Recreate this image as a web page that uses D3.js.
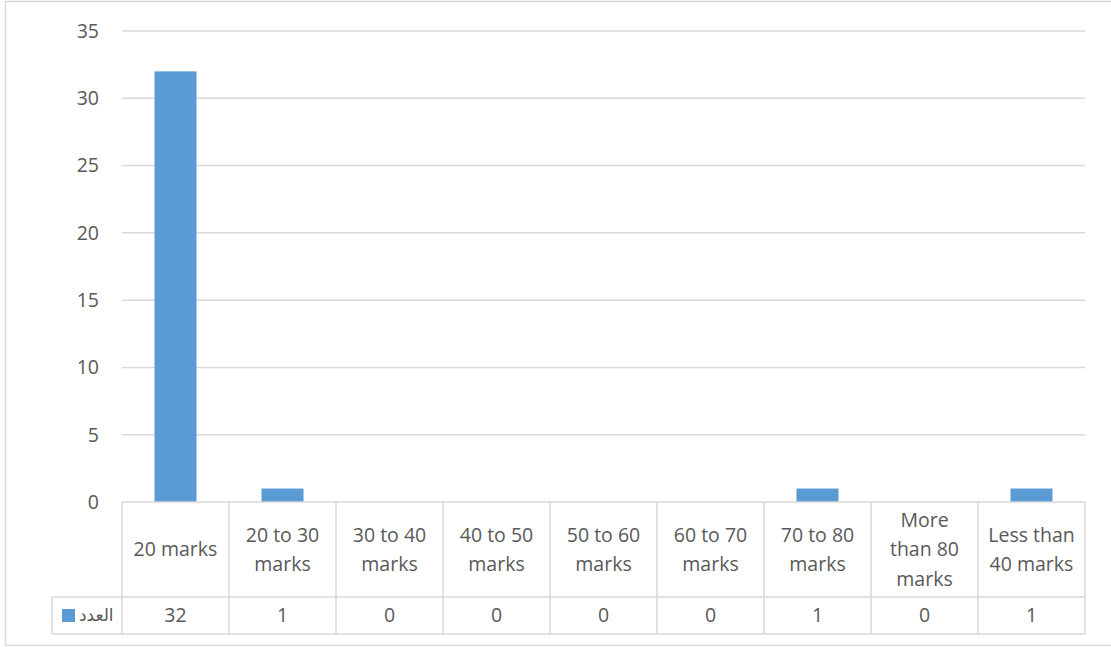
<!DOCTYPE html>
<html>
<head>
<meta charset="utf-8">
<script src="https://cdn.jsdelivr.net/npm/d3@7"></script>
<style>
  body { margin: 0; background: #fff; }
  text { font-family: "Open Sans", "Liberation Sans", sans-serif; fill: #595959; }
</style>
</head>
<body>
<script>
// chart data
var categories = ["20 marks", "20 to 30\nmarks", "30 to 40\nmarks", "40 to 50\nmarks", "50 to 60\nmarks",
  "60 to 70\nmarks", "70 to 80\nmarks", "More\nthan 80\nmarks", "Less than\n40 marks"];
var counts = [32, 1, 0, 0, 0, 0, 1, 0, 1];
var seriesName = "العدد";
var yTicks = [0, 5, 10, 15, 20, 25, 30, 35];

var width = 1111, height = 647;
var plotLeft = 122, plotRight = 1085, plotTop = 31, axisY = 502;
var headerBottom = 597, tableBottom = 634, legendLeft = 52;
var grid = "#D9D9D9", barColor = "#5B9BD5";

var svg = d3.select("body").append("svg")
  .attr("width", width)
  .attr("height", height);

// outer chart border
svg.append("rect")
  .attr("x", 5.5).attr("y", 1.5)
  .attr("width", 1120).attr("height", 644)
  .attr("fill", "none").attr("stroke", grid).attr("stroke-width", 1.5);

var x = d3.scaleBand()
  .domain(categories)
  .range([plotLeft, plotRight]);

var y = d3.scaleLinear()
  .domain([0, 35])
  .range([axisY, plotTop]);

// gridlines
svg.selectAll(".grid")
  .data(yTicks.filter(function(d) { return d > 0; }))
  .enter().append("line")
    .attr("x1", plotLeft).attr("x2", plotRight)
    .attr("y1", function(d) { return y(d); })
    .attr("y2", function(d) { return y(d); })
    .attr("stroke", grid).attr("stroke-width", 1.5);

// y labels
svg.selectAll(".ylab")
  .data(yTicks)
  .enter().append("text")
    .attr("x", 99)
    .attr("y", function(d) { return y(d); })
    .attr("dy", "0.35em")
    .attr("text-anchor", "end")
    .style("font-size", "19.5px")
    .text(function(d) { return d; });

// bars
var barW = 42;
svg.selectAll(".bar")
  .data(counts)
  .enter().append("rect")
    .attr("x", function(d, i) { return x(categories[i]) + (x.bandwidth() - barW) / 2; })
    .attr("y", function(d) { return y(d); })
    .attr("width", barW)
    .attr("height", function(d) { return axisY - y(d); })
    .attr("fill", barColor);

// data table lines
var tbl = svg.append("g").attr("stroke", grid).attr("stroke-width", 1.5);
tbl.append("line").attr("x1", plotLeft).attr("x2", plotRight).attr("y1", axisY).attr("y2", axisY);
tbl.append("line").attr("x1", legendLeft).attr("x2", plotRight).attr("y1", headerBottom).attr("y2", headerBottom);
tbl.append("line").attr("x1", legendLeft).attr("x2", plotRight).attr("y1", tableBottom).attr("y2", tableBottom);
tbl.append("line").attr("x1", legendLeft).attr("x2", legendLeft).attr("y1", headerBottom).attr("y2", tableBottom);
tbl.selectAll(".v")
  .data(categories.map(function(c) { return x(c); }).concat([plotRight]))
  .enter().append("line")
    .attr("x1", function(d) { return d; }).attr("x2", function(d) { return d; })
    .attr("y1", axisY).attr("y2", tableBottom);

// category labels
var lineH = 29.5;
categories.forEach(function(c) {
  var lines = c.split("\n");
  var cy = (axisY + headerBottom) / 2;
  var t = svg.append("text")
    .attr("text-anchor", "middle")
    .style("font-size", "19.5px");
  lines.forEach(function(l, j) {
    t.append("tspan")
      .attr("x", x(c) + x.bandwidth() / 2)
      .attr("y", cy + (j - (lines.length - 1) / 2) * lineH)
      .attr("dy", "0.35em")
      .text(l);
  });
});

// values row
svg.selectAll(".val")
  .data(counts)
  .enter().append("text")
    .attr("x", function(d, i) { return x(categories[i]) + x.bandwidth() / 2; })
    .attr("y", (headerBottom + tableBottom) / 2)
    .attr("dy", "0.35em")
    .attr("text-anchor", "middle")
    .style("font-size", "19.5px")
    .text(function(d) { return d; });

// legend key
svg.append("rect")
  .attr("x", 62).attr("y", 609)
  .attr("width", 13).attr("height", 13)
  .attr("fill", barColor);
svg.append("text")
  .attr("x", 79)
  .attr("y", (headerBottom + tableBottom) / 2)
  .attr("dy", "0.3em")
  .attr("text-anchor", "start")
  .style("font-family", "'DejaVu Sans', 'Noto Sans', sans-serif")
  .style("font-size", "17px")
  .text(seriesName);
</script>
</body>
</html>
